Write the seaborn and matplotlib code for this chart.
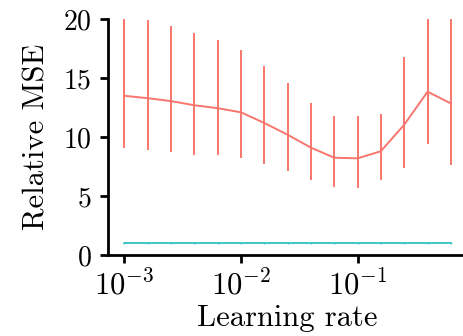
import numpy as np
import pandas as pd
import matplotlib
matplotlib.use("Agg")
import matplotlib.pyplot as plt
import seaborn as sns

# learning rates (log-spaced)
learning_rate = [0.001, 0.00158, 0.00251, 0.00398, 0.00631, 0.01, 0.0158, 0.0251,
                 0.0398, 0.0631, 0.1, 0.158, 0.251, 0.398, 0.631]

# relative MSE of the trained model, with lower / upper error bar ends
mse_model = [13.5, 13.3, 13.05, 12.7, 12.45, 12.1, 11.2, 10.2,
             9.1, 8.25, 8.2, 8.8, 11.05, 13.85, 12.85]
mse_model_low = [9.1, 8.9, 8.7, 8.5, 8.5, 8.25, 7.75, 7.1,
                 6.4, 5.8, 5.65, 6.4, 7.4, 9.4, 7.6]
mse_model_high = [20.8, 19.9, 19.4, 18.8, 18.2, 17.4, 16.0, 14.6,
                  12.85, 11.75, 11.8, 12.0, 16.8, 21.5, 21.0]

# baseline (flat at 1)
mse_base = [1.0] * 15
mse_base_low = [0.92] * 15
mse_base_high = [1.08] * 15

RED = "#F8766D"
CYAN = "#3FC6C9"

sns.set_style("ticks")
plt.rcParams["font.family"] = ["cmr10"]
plt.rcParams["mathtext.fontset"] = "cm"
plt.rcParams["axes.formatter.use_mathtext"] = True
plt.rcParams["axes.unicode_minus"] = False
plt.rcParams["text.color"] = "black"
plt.rcParams["axes.labelcolor"] = "black"
plt.rcParams["xtick.color"] = "black"
plt.rcParams["ytick.color"] = "black"
plt.rcParams["axes.edgecolor"] = "black"

fig = plt.figure(figsize=(4.64, 3.36), dpi=100)
ax = fig.add_axes([0.233, 0.241, 0.774, 0.702])

df = pd.DataFrame({
    "lr": learning_rate * 2,
    "mse": mse_model + mse_base,
    "kind": ["model"] * 15 + ["base"] * 15,
})
sns.lineplot(data=df, x="lr", y="mse", hue="kind",
             palette={"model": RED, "base": CYAN},
             linewidth=1.4, legend=False, ax=ax)

ax.vlines(learning_rate, mse_model_low, mse_model_high, color=RED, linewidth=1.4)
ax.vlines(learning_rate, mse_base_low, mse_base_high, color=CYAN, linewidth=1.0)

ax.set_xscale("log")
ax.set_ylim(0, 20)
ax.set_yticks([0, 5, 10, 15, 20])
ax.set_xticks([1e-3, 1e-2, 1e-1])
ax.xaxis.set_minor_locator(matplotlib.ticker.NullLocator())

ax.set_xlabel("Learning rate", fontsize=22, labelpad=2)
ax.set_ylabel("Relative MSE", fontsize=22, labelpad=9)
ax.tick_params(axis="y", labelsize=20, width=2, length=6, pad=6)
ax.tick_params(axis="x", labelsize=22, width=2, length=6, pad=5)
for s in ["left", "bottom"]:
    ax.spines[s].set_linewidth(2)
sns.despine(ax=ax)

fig.savefig("out.png", dpi=100)
